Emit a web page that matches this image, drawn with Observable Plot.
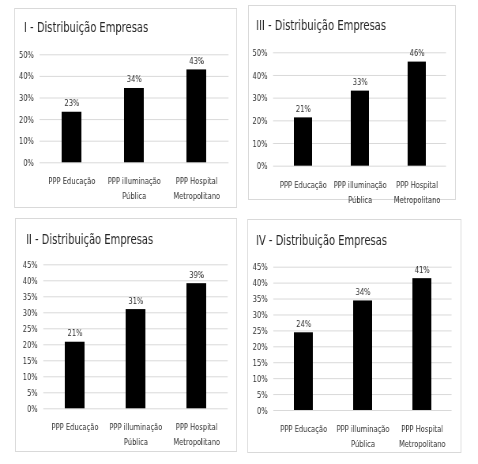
<!DOCTYPE html>
<html><head><meta charset="utf-8">
<script src="https://cdn.jsdelivr.net/npm/d3@7"></script>
<script src="https://cdn.jsdelivr.net/npm/@observablehq/plot@0.6"></script>
<style>
body{margin:0;background:#fff;overflow:hidden;}
#root{position:relative;height:464px;transform-origin:0 0;will-change:transform;-webkit-font-smoothing:antialiased;font-family:"DejaVu Sans Condensed","DejaVu Sans",sans-serif;font-stretch:condensed;}
.box{position:absolute;border:1px solid #d9d9d9;box-sizing:border-box;}
.title{position:absolute;font-size:14px;line-height:14px;color:#262626;white-space:nowrap;}
#root svg{position:absolute;overflow:visible;}
</style></head><body><div id="root"></div>
<script>
const categories = ["PPP Educação", "PPP illuminação\nPública", "PPP Hospital\nMetropolitano"];
const titles = ["I - Distribuição Empresas", "III - Distribuição Empresas", "II - Distribuição Empresas", "IV - Distribuição Empresas"];
const valuesI = [0.234, 0.344, 0.430];
const valuesIII = [0.213, 0.331, 0.459];
const valuesII = [0.208, 0.310, 0.391];
const valuesIV = [0.244, 0.344, 0.414];
const yMaxes = [0.5, 0.5, 0.45, 0.45];
const yStep = [0.1, 0.1, 0.05, 0.05];

// horizontal squeeze of the whole picture (the reference is horizontally compressed)
const S = 0.79;
// layout in page pixels: box [left, top, width, height], frame [x0, x1, yTop, yZero], title [x, baseline]
const layouts = [
  {box:[14,8,223,200], frame:[39.3,228.3,54.3,162.3], title:[24,32]},
  {box:[248,5,208,195], frame:[273,446,52.3,165.7], title:[256,29.3]},
  {box:[15,218,222,234], frame:[43.3,227.7,264.3,408.3], title:[26,243.3]},
  {box:[247,219,214,234], frame:[273,451.3,266.7,410], title:[256,245]}
];
const series = [valuesI, valuesIII, valuesII, valuesIV];
const root = document.getElementById("root");
root.style.width = (478 / S) + "px";
root.style.transform = `scaleX(${S})`;
const fmt = d3.format(".0%");
const FONT = '"DejaVu Sans Condensed","DejaVu Sans",sans-serif';
const TXT = "#333333";

series.forEach((vals, i) => {
  const L = layouts[i];
  const bl = L.box[0] / S, bt = L.box[1], bw = L.box[2] / S, bh = L.box[3];
  const box = document.createElement("div");
  box.className = "box";
  Object.assign(box.style, {left: bl+"px", top: bt+"px", width: bw+"px", height: bh+"px"});
  root.appendChild(box);

  const t = document.createElement("div");
  t.className = "title";
  t.textContent = titles[i];
  t.style.left = (L.title[0] / S) + "px";
  t.style.top = (L.title[1] - 11.8) + "px";
  root.appendChild(t);

  const data = categories.map((c, k) => ({cat: c, value: vals[k]}));
  const x0 = L.frame[0] / S, x1 = L.frame[1] / S, yT = L.frame[2], yZ = L.frame[3];
  const ticks = d3.range(0, yMaxes[i] + 1e-9, yStep[i]);
  const svg = Plot.plot({
    width: bw, height: bh,
    marginLeft: x0 - bl, marginRight: bl + bw - x1,
    marginTop: yT - bt, marginBottom: bt + bh - yZ,
    style: {fontFamily: FONT, fontStretch: "condensed", fontSize: "9.5px", color: TXT, background: "transparent"},
    x: {domain: categories, paddingInner: 0.68, paddingOuter: 0.34, label: null},
    y: {domain: [0, yMaxes[i]], label: null},
    marks: [
      Plot.gridY(ticks, {stroke: "#d9d9d9", strokeOpacity: 1, strokeWidth: 1}),
      Plot.axisY(ticks, {tickSize: 0, tickPadding: 6 / S, tickFormat: fmt, label: null, fill: TXT}),
      Plot.axisX({tickSize: 0, tickPadding: 10.8, lineHeight: 1.58, label: null, fill: TXT}),
      Plot.barY(data, {x: "cat", y: "value", fill: "#000"}),
      Plot.text(data, {x: "cat", y: "value", text: d => fmt(d.value), dy: -6, lineAnchor: "bottom", fill: TXT, fontSize: 9.5})
    ]
  });
  svg.style.left = bl + "px";
  svg.style.top = bt + "px";
  root.appendChild(svg);
});
</script></body></html>
